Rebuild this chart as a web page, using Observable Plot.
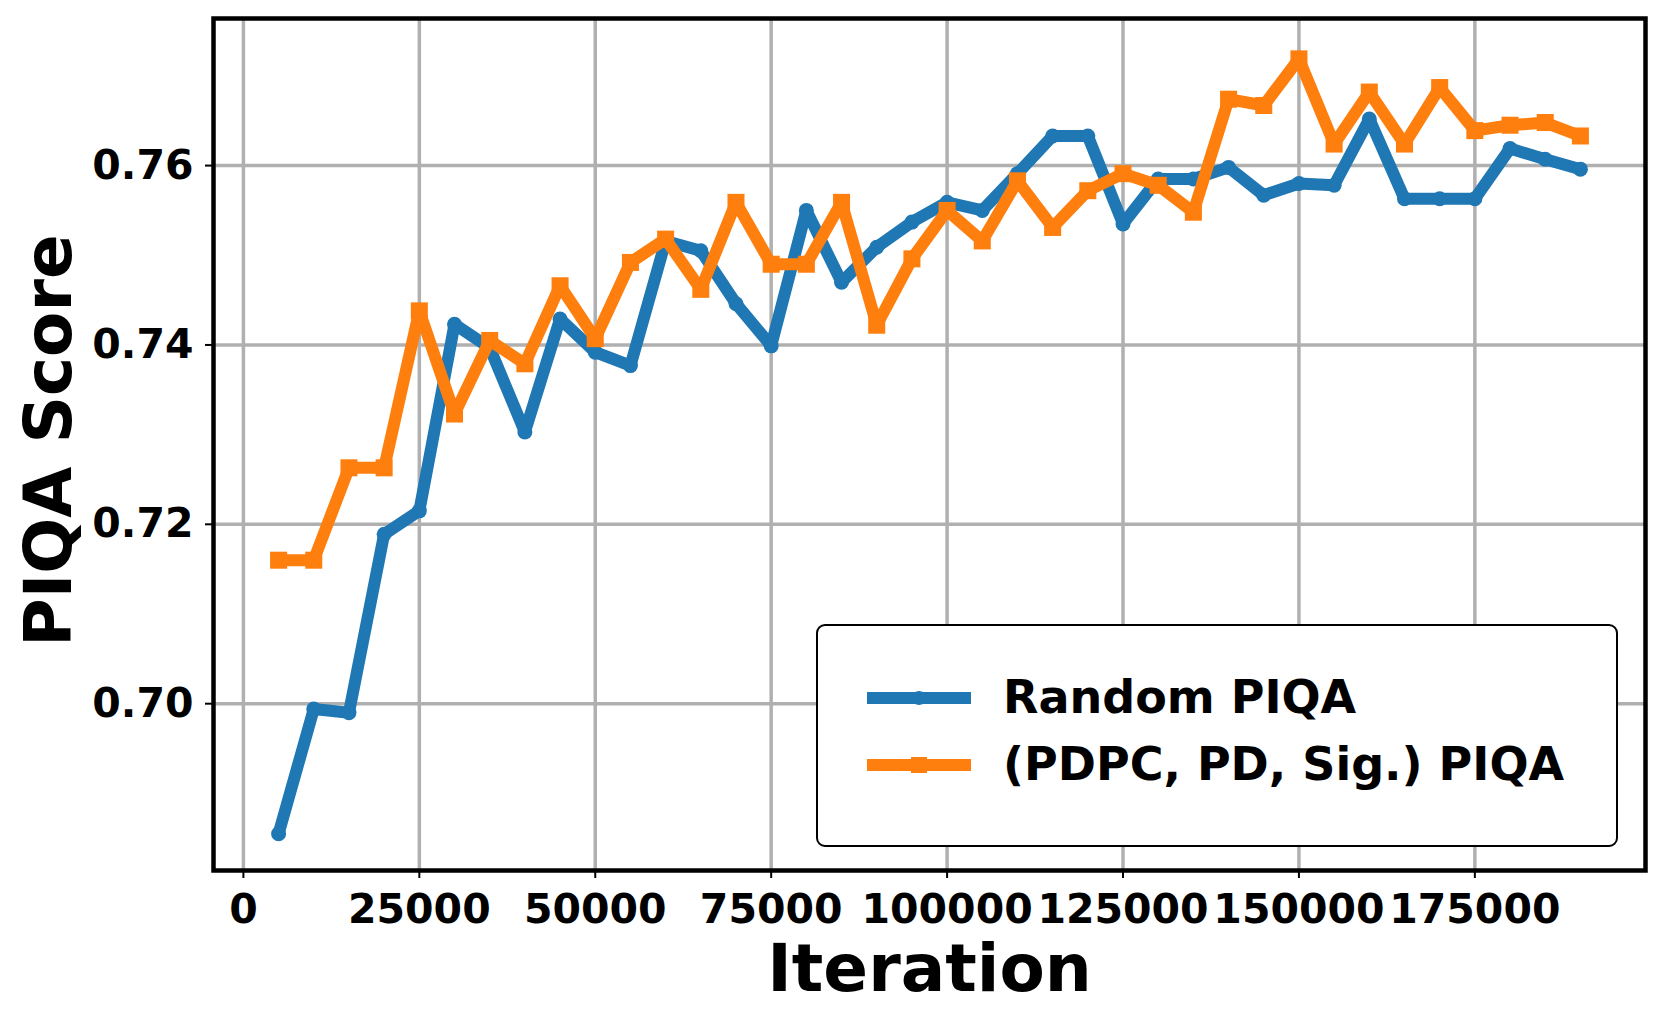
<!DOCTYPE html>
<html>
<head>
<meta charset="utf-8">
<script src="https://cdn.jsdelivr.net/npm/d3@7"></script>
<script src="https://cdn.jsdelivr.net/npm/@observablehq/plot@0.6"></script>
<style>
  html, body { margin: 0; padding: 0; background: #fff; }
  #wrap { position: relative; width: 1661px; height: 1022px; font-family: "DejaVu Sans", sans-serif; font-weight: bold; }
  #legend { position: absolute; left: 816px; top: 624px; width: 798px; height: 219px; border: 2px solid #000; border-radius: 9px; background: #fff; box-sizing: content-box; }
  .lbl { position: absolute; left: 185px; font-size: 46px; line-height: normal; white-space: nowrap; color: #000; }
  .hdl { position: absolute; left: 48px; }
</style>
</head>
<body>
<div id="wrap"></div>
<script>
const iterations = [5000, 10000, 15000, 20000, 25000, 30000, 35000, 40000, 45000, 50000,
  55000, 60000, 65000, 70000, 75000, 80000, 85000, 90000, 95000, 100000,
  105000, 110000, 115000, 120000, 125000, 130000, 135000, 140000, 145000, 150000,
  155000, 160000, 165000, 170000, 175000, 180000, 185000, 190000];
const randomPIQA = [0.6855, 0.6994, 0.6990, 0.7189, 0.7215, 0.7423, 0.7397, 0.7303, 0.7429, 0.7392,
  0.7377, 0.7516, 0.7505, 0.7446, 0.7399, 0.7550, 0.7470, 0.7509, 0.7537, 0.7559,
  0.7550, 0.7591, 0.7633, 0.7633, 0.7535, 0.7585, 0.7585, 0.7598, 0.7567, 0.7580,
  0.7578, 0.7652, 0.7563, 0.7563, 0.7563, 0.7619, 0.7607, 0.7596];
const pdpcPIQA = [0.7160, 0.7160, 0.7263, 0.7263, 0.7438, 0.7323, 0.7405, 0.7379, 0.7466, 0.7407,
  0.7492, 0.7518, 0.7462, 0.7559, 0.7490, 0.7490, 0.7559, 0.7422, 0.7496, 0.7550,
  0.7516, 0.7583, 0.7531, 0.7572, 0.7591, 0.7578, 0.7548, 0.7674, 0.7667, 0.7719,
  0.7624, 0.7682, 0.7624, 0.7687, 0.7639, 0.7645, 0.7648, 0.7633];
const seriesNames = ["Random PIQA", "(PDPC, PD, Sig.) PIQA"];
const seriesColors = ["#1f77b4", "#ff7f0e"];
const xTicks = [0, 25000, 50000, 75000, 100000, 125000, 150000, 175000];
const yTicks = [0.70, 0.72, 0.74, 0.76];
const xTitle = "Iteration";
const yTitle = "PIQA Score";

const rowsA = iterations.map((it, i) => ({iter: it, score: randomPIQA[i], series: seriesNames[0]}));
const rowsB = iterations.map((it, i) => ({iter: it, score: pdpcPIQA[i], series: seriesNames[1]}));

const grid = {stroke: "#b0b0b0", strokeOpacity: 1, strokeWidth: 3.5};

const chart = Plot.plot({
  width: 1661,
  height: 1022,
  marginLeft: 213,
  marginRight: 16,
  marginTop: 18,
  marginBottom: 152,
  style: {fontFamily: "DejaVu Sans", fontWeight: "bold", background: "white", color: "black"},
  x: {domain: [-4250, 199250]},
  y: {domain: [0.6814, 0.7764]},
  marks: [
    Plot.gridX(xTicks, grid),
    Plot.gridY(yTicks, grid),
    Plot.line(rowsA, {x: "iter", y: "score", stroke: seriesColors[0], strokeWidth: 12, strokeLinejoin: "round"}),
    Plot.dot(rowsA, {x: "iter", y: "score", r: 7.5, fill: seriesColors[0], stroke: null}),
    Plot.line(rowsB, {x: "iter", y: "score", stroke: seriesColors[1], strokeWidth: 12, strokeLinejoin: "round"}),
    Plot.dot(rowsB, {x: "iter", y: "score", symbol: "square", r: 9.6, fill: seriesColors[1], stroke: null}),
    Plot.axisX(xTicks, {tickSize: 8, tickPadding: 15, fontSize: 41, fontWeight: "bold", strokeWidth: 2, tickFormat: d => String(d), label: null}),
    Plot.axisY(yTicks, {tickSize: 8, tickPadding: 12, fontSize: 41, fontWeight: "bold", strokeWidth: 2, tickFormat: d => d.toFixed(2), label: null}),
    Plot.frame({stroke: "black", strokeWidth: 4.5}),
    Plot.text([xTitle], {text: d => d, frameAnchor: "bottom", lineAnchor: "middle", textAnchor: "middle", dy: 99, fontSize: 66, fontWeight: "bold", fill: "black"}),
    Plot.text([yTitle], {text: d => d, frameAnchor: "left", lineAnchor: "middle", textAnchor: "middle", rotate: -90, dx: -164, dy: -4, fontSize: 66, fontWeight: "bold", fill: "black"})
  ]
});

const wrap = document.getElementById("wrap");
wrap.appendChild(chart);

// Legend overlay
const legend = document.createElement("div");
legend.id = "legend";
const rowCenters = [74, 141];
const baselines = [89, 156];
seriesNames.forEach((name, i) => {
  const hdl = d3.create("svg").attr("class", "hdl").attr("width", 106).attr("height", 24)
    .style("top", (rowCenters[i] - 2 - 12) + "px");
  hdl.append("line").attr("x1", 1).attr("x2", 105).attr("y1", 12).attr("y2", 12)
    .attr("stroke", seriesColors[i]).attr("stroke-width", 12);
  if (i === 0) {
    hdl.append("circle").attr("cx", 53).attr("cy", 12).attr("r", 7).attr("fill", seriesColors[i]);
  } else {
    hdl.append("rect").attr("x", 45).attr("y", 4).attr("width", 16).attr("height", 16).attr("fill", seriesColors[i]);
  }
  legend.appendChild(hdl.node());
  const lbl = document.createElement("div");
  lbl.className = "lbl";
  lbl.textContent = name;
  lbl.style.top = (baselines[i] - 2 - 0.928 * 46) + "px";
  legend.appendChild(lbl);
});
wrap.appendChild(legend);
</script>
</body>
</html>
